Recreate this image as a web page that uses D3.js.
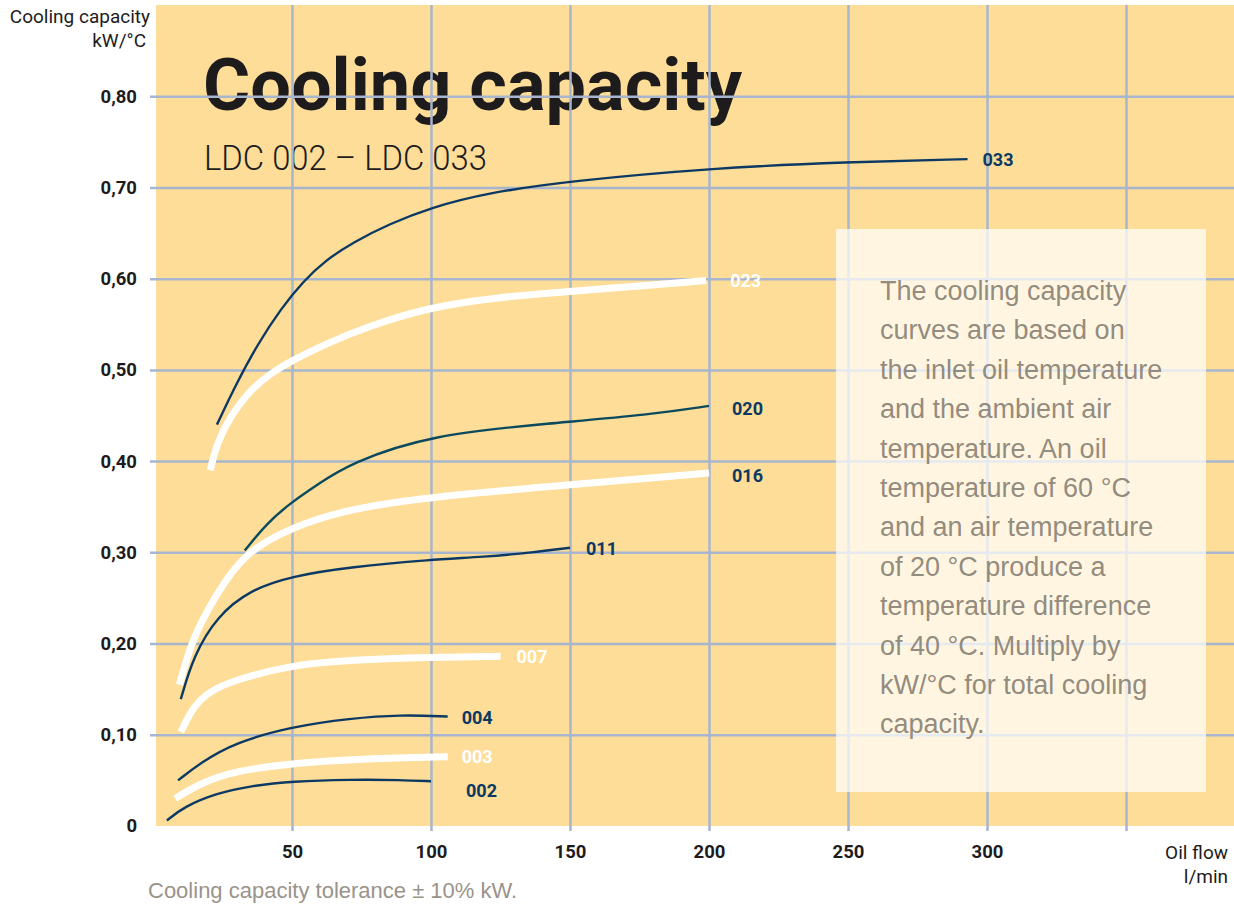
<!DOCTYPE html>
<html>
<head>
<meta charset="utf-8">
<script src="https://cdn.jsdelivr.net/npm/d3@7"></script>
<style>
  body { margin: 0; background: #fff; }
  svg { display: block; }
</style>
</head>
<body>
<div id="chart-area"></div>
<script>
// values, [oil flow l/min, kW/°C]
let seriesNames = ["002", "003", "004", "007", "011", "016", "020", "023", "033"];

let s002 = [[5,0.006],[11,0.021],[23,0.036],[35,0.044],[50,0.049],[71,0.051],[89,0.0505],[100,0.049]];
let s003 = [[8,0.030],[17,0.047],[29,0.060],[50,0.069],[77,0.074],[106,0.076]];
let s004 = [[9,0.050],[17,0.069],[29,0.091],[50,0.109],[71,0.118],[89,0.122],[106,0.120]];
let s007 = [[10,0.103],[14.5,0.131],[20,0.147],[29,0.160],[50,0.1765],[71,0.182],[100,0.185],[125,0.186]];
let s011 = [[10,0.139],[14.5,0.186],[23,0.230],[35,0.259],[50,0.274],[71,0.284],[100,0.292],[119,0.295],[137,0.300],[150,0.305]];
let s016 = [[9.5,0.155],[14.4,0.208],[23,0.255],[32.6,0.299],[50,0.328],[71,0.348],[100,0.361],[150,0.374],[200,0.387]];
let s020 = [[33,0.302],[41,0.332],[49.4,0.354],[59,0.374],[71,0.398],[100,0.429],[143,0.4415],[179,0.451],[200,0.4605]];
let s023 = [[20.6,0.390],[23,0.420],[27.8,0.449],[35,0.478],[42.2,0.496],[50.4,0.511],[62.6,0.529],[75.8,0.546],[99.4,0.569],[125,0.580],[150,0.586],[161,0.5885],[199,0.598]];
let s033 = [[23,0.440],[30,0.485],[38,0.530],[46,0.567],[54,0.597],[62,0.620],[72,0.640],[85,0.660],[100,0.678],[120,0.694],[150,0.707],[200,0.721],[250,0.728],[293,0.731]];

let seriesData = [s002, s003, s004, s007, s011, s016, s020, s023, s033];

let xTicks = [50, 100, 150, 200, 250, 300, 350];
let xTickLabels = ["50", "100", "150", "200", "250", "300", ""];
let yTicks = [0, 0.1, 0.2, 0.3, 0.4, 0.5, 0.6, 0.7, 0.8];
let yTickLabels = ["0", "0,10", "0,20", "0,30", "0,40", "0,50", "0,60", "0,70", "0,80"];

let noteLines = [
    "The cooling capacity",
    "curves are based on",
    "the inlet oil temperature",
    "and the ambient air",
    "temperature. An oil",
    "temperature of 60 °C",
    "and an air temperature",
    "of 20 °C produce a",
    "temperature difference",
    "of 40 °C. Multiply by",
    "kW/°C for total cooling",
    "capacity."
];

// styling per curve (white = thick band, dark = thin line)
let navy = "#0c3963";
let curveStyle = {
    "002": { stroke: navy, w: 2.4, label: navy, dx: 35, dy: 9 },
    "003": { stroke: "#fff", w: 7, label: "#fff", dx: 14, dy: 0 },
    "004": { stroke: navy, w: 2.4, label: navy, dx: 14, dy: 1 },
    "007": { stroke: "#fff", w: 7, label: "#fff", dx: 16, dy: 0 },
    "011": { stroke: navy, w: 2.4, label: navy, dx: 16, dy: 1 },
    "016": { stroke: "#fff", w: 7, label: navy, dx: 23, dy: 3 },
    "020": { stroke: "#0b4a5e", w: 2.4, label: navy, dx: 23, dy: 3 },
    "023": { stroke: "#fff", w: 7, label: "#fff", dx: 24, dy: 0 },
    "033": { stroke: navy, w: 2.4, label: navy, dx: 15, dy: 0 }
};

let W = 1234, H = 906;
let plotLeft = 156, plotTop = 5, plotBottom = 826;

let svg = d3.select("#chart-area")
    .append("svg")
        .attr("width", W)
        .attr("height", H);

let x = d3.scaleLinear().domain([0, 350]).range([153, 1126]);
let y = d3.scaleLinear().domain([0, 0.9]).range([plotBottom, plotTop]);

// plot background
svg.append("rect")
    .attr("x", plotLeft)
    .attr("y", plotTop)
    .attr("width", W - plotLeft)
    .attr("height", plotBottom - plotTop)
    .attr("fill", "#fddd97");

// title (sits under the grid)
svg.append("text")
    .attr("x", 203)
    .attr("y", 110)
    .attr("font-family", "Roboto, sans-serif")
    .attr("font-weight", 700)
    .attr("font-size", "72px")
    .attr("fill", "#1d1b1c")
    .attr("textLength", 539)
    .attr("lengthAdjust", "spacingAndGlyphs")
    .text("Cooling capacity");

svg.append("text")
    .attr("x", 204)
    .attr("y", 170)
    .attr("font-family", "Roboto, sans-serif")
    .attr("font-weight", 300)
    .attr("font-size", "35px")
    .attr("fill", "#1d1b1c")
    .attr("textLength", 283)
    .attr("lengthAdjust", "spacingAndGlyphs")
    .text("LDC 002 – LDC 033");

// grid + tick labels via axes
let xAxisCall = d3.axisBottom(x)
    .tickValues(xTicks)
    .tickSize(-(831 - plotTop))
    .tickPadding(14)
    .tickFormat((d, i) => xTickLabels[i]);

let xAxis = svg.append("g")
    .attr("class", "x axis")
    .attr("transform", "translate(0, 831)")
    .call(xAxisCall);

let yAxisCall = d3.axisLeft(y)
    .tickValues(yTicks)
    .tickSize(-(W - 150))
    .tickPadding(13)
    .tickFormat((d, i) => yTickLabels[i]);

let yAxis = svg.append("g")
    .attr("class", "y axis")
    .attr("transform", "translate(150, 0)")
    .call(yAxisCall);

[xAxis, yAxis].forEach((g) => {
    g.select(".domain").remove();
    g.selectAll(".tick line")
        .attr("stroke", "#a8b5ce")
        .attr("stroke-width", 2.5);
    g.selectAll(".tick text")
        .attr("font-family", "Roboto, sans-serif")
        .attr("font-weight", 700)
        .attr("font-size", "18.5px")
        .attr("fill", "#1d1b1c");
});
yAxis.selectAll(".tick").filter((d) => d === 0).select("line").remove();

// curves
let line = d3.line()
    .x((d) => x(d[0]))
    .y((d) => y(d[1]))
    .curve(d3.curveBasis);

let curves = seriesNames.map((name, i) => ({ name: name, values: seriesData[i] }));

svg.append("g")
    .selectAll("path")
    .data(curves)
    .enter()
    .append("path")
        .attr("d", (d) => line(d.values))
        .attr("fill", "none")
        .attr("stroke", (d) => curveStyle[d.name].stroke)
        .attr("stroke-width", (d) => curveStyle[d.name].w);

svg.append("g")
    .selectAll("text")
    .data(curves)
    .enter()
    .append("text")
        .attr("x", (d) => x(d.values[d.values.length - 1][0]) + curveStyle[d.name].dx)
        .attr("y", (d) => y(d.values[d.values.length - 1][1]) + curveStyle[d.name].dy)
        .attr("dy", "0.36em")
        .attr("font-family", "Roboto, sans-serif")
        .attr("font-weight", 700)
        .attr("font-size", "18px")
        .attr("fill", (d) => curveStyle[d.name].label)
        .text((d) => d.name);

// note box
svg.append("rect")
    .attr("x", 836)
    .attr("y", 229)
    .attr("width", 370)
    .attr("height", 563)
    .attr("fill", "#fff")
    .attr("fill-opacity", 0.7);

svg.append("g")
    .selectAll("text")
    .data(noteLines)
    .enter()
    .append("text")
        .attr("x", 880)
        .attr("y", (d, i) => 300 + i * 39.4)
        .attr("font-family", "'Liberation Sans', Arial, sans-serif")
        .attr("font-size", "27px")
        .attr("fill", "#857d72")
        .attr("fill-opacity", 0.9)
        .text((d) => d);

// axis titles
let axisTitle = (txt, tx, ty, anchor) => svg.append("text")
    .attr("x", tx)
    .attr("y", ty)
    .attr("text-anchor", anchor)
    .attr("font-family", "Roboto, sans-serif")
    .attr("font-size", "19px")
    .attr("fill", "#1d1b1c")
    .text(txt);

axisTitle("Cooling capacity", 150, 23, "end");
axisTitle("kW/°C", 146, 47, "end");
axisTitle("Oil flow", 1228, 859, "end");
axisTitle("l/min", 1228, 883, "end");

svg.append("text")
    .attr("x", 148)
    .attr("y", 898)
    .attr("font-family", "'Liberation Sans', Arial, sans-serif")
    .attr("font-size", "22px")
    .attr("fill", "#9a938a")
    .text("Cooling capacity tolerance ± 10% kW.");
</script>
</body>
</html>
